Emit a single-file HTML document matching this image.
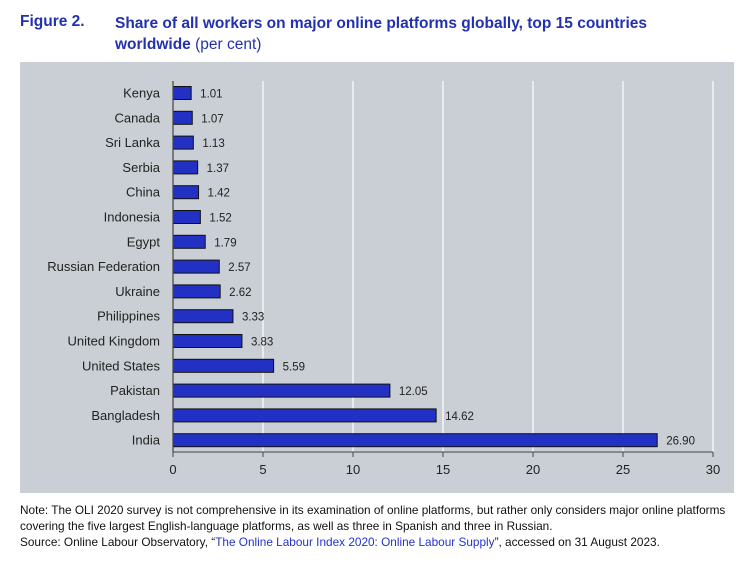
<!DOCTYPE html>
<html><head><meta charset="utf-8"><style>
body{margin:0;width:749px;height:562px;background:#fff;font-family:"Liberation Sans",sans-serif;overflow:hidden;position:relative}
.t{position:absolute;color:#2231b0;font-size:15.5px;font-weight:bold}
.n{position:absolute;left:20px;font-size:11.8px;color:#111;white-space:nowrap}
a{color:#2233cc;text-decoration:none}
</style></head><body>
<div class="t" style="left:20px;top:13px">Figure 2.</div>
<div class="t" style="left:115px;top:13px;line-height:21px">Share of all workers on major online platforms globally, top 15 countries<br>worldwide <span style="font-weight:normal">(per cent)</span></div>
<svg style="position:absolute;left:0;top:0" width="749" height="562">
<rect x="20" y="62" width="714" height="431" fill="#c9cfd5"/>
<g stroke="#fff" stroke-width="1.2">
<line x1="263" y1="81" x2="263" y2="452"/><line x1="353" y1="81" x2="353" y2="452"/><line x1="443" y1="81" x2="443" y2="452"/><line x1="533" y1="81" x2="533" y2="452"/><line x1="623" y1="81" x2="623" y2="452"/><line x1="713" y1="81" x2="713" y2="452"/>
</g>
<g font-size="13" fill="#222" text-anchor="end" id="lab"></g>
<line x1="173" y1="81" x2="173" y2="452" stroke="#444" stroke-width="1.2"/>
<line x1="173" y1="452" x2="713" y2="452" stroke="#444" stroke-width="1"/>
<g stroke="#444"><line x1="173" y1="452" x2="173" y2="457"/><line x1="263" y1="452" x2="263" y2="457"/><line x1="353" y1="452" x2="353" y2="457"/><line x1="443" y1="452" x2="443" y2="457"/><line x1="533" y1="452" x2="533" y2="457"/><line x1="623" y1="452" x2="623" y2="457"/><line x1="713" y1="452" x2="713" y2="457"/></g>
<g font-size="13" fill="#222" text-anchor="middle"><text x="173" y="474">0</text><text x="263" y="474">5</text><text x="353" y="474">10</text><text x="443" y="474">15</text><text x="533" y="474">20</text><text x="623" y="474">25</text><text x="713" y="474">30</text></g>
</svg>
<div class="n" style="top:503px">Note: The OLI 2020 survey is not comprehensive in its examination of online platforms, but rather only considers major online platforms</div>
<div class="n" style="top:519px">covering the five largest English-language platforms, as well as three in Spanish and three in Russian.</div>
<div class="n" style="top:535px">Source: Online Labour Observatory, “<a>The Online Labour Index 2020: Online Labour Supply</a>”, accessed on 31 August 2023.</div>
<script>
var d=[["Kenya",1.01],["Canada",1.07],["Sri Lanka",1.13],["Serbia",1.37],["China",1.42],["Indonesia",1.52],["Egypt",1.79],["Russian Federation",2.57],["Ukraine",2.62],["Philippines",3.33],["United Kingdom",3.83],["United States",5.59],["Pakistan",12.05],["Bangladesh",14.62],["India",26.90]];
var g=document.getElementById("lab"),s="";
d.forEach(function(r,i){var y=93+i*24.8;var w=r[1]*18;
s+='<text x="160" y="'+(y+4.5)+'">'+r[0]+'</text>';
s+='<rect x="173" y="'+(y-6.5)+'" width="'+w+'" height="13" fill="#2330c4" stroke="#111" stroke-width="1"/>';
s+='<text text-anchor="start" font-size="11.5" x="'+(173+w+9)+'" y="'+(y+4.5)+'">'+r[1].toFixed(2)+'</text>';});
g.innerHTML=s;
</script>
</body></html>
